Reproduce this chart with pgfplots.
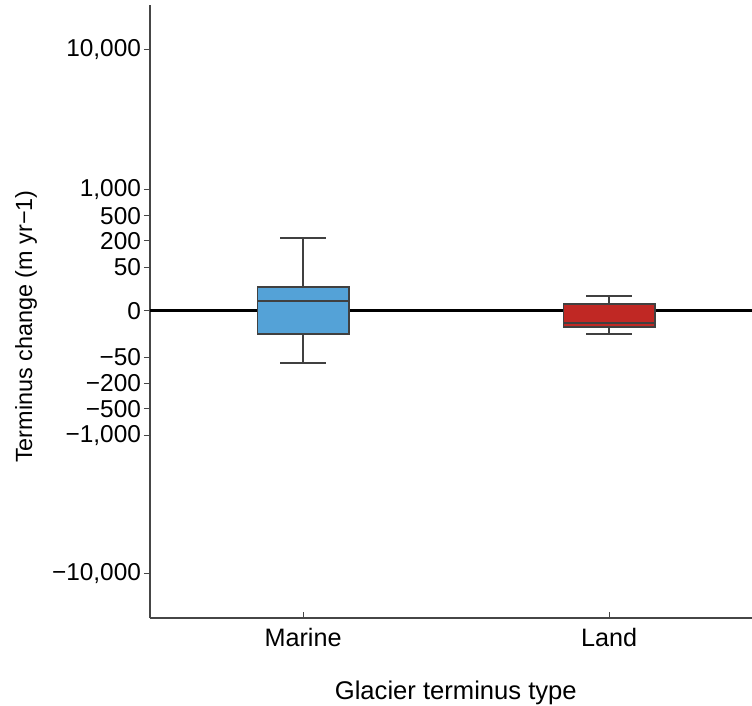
\documentclass[border=0pt]{standalone}
\usepackage{pgfplots}
\pgfplotsset{compat=1.18}
\usepackage{fontspec}
\setmainfont{Liberation Sans}
\definecolor{marineblue}{RGB}{84,162,215}
\definecolor{landred}{RGB}{192,40,36}
\definecolor{spine}{RGB}{70,70,70}
\begin{document}
\begin{tikzpicture}
\begin{axis}[
  name=ax,
  scale only axis,
  width=301pt, height=306.5pt,
  xmin=0.5, xmax=2.467,
  ymin=-307, ymax=306,
  axis x line=bottom, axis y line=left,
  axis line style={spine, line width=0.75pt, -},
  font=\fontsize{12.2}{14.6}\selectfont,
  /pgf/number format/assume math mode=true,
  xtick={1,2}, xticklabels={Marine,Land},
  ytick={-262.7,-124.7,-97.7,-72.3,-46.3,0,43.7,70.3,95.3,121.7,261},
  yticklabels={{−10,000},{−1,000},{−500},{−200},{−50},{0},{50},{200},{500},{1,000},{10,000}},
  ytick style={spine, line width=0.5pt},
  xtick style={spine, line width=0.5pt},
  ytick align=outside, xtick align=inside,
  major tick length=3pt,
  yticklabel style={xshift=2pt},
  xticklabel style={yshift=-1.5pt, font=\fontsize{12.6}{15}\selectfont},
  ylabel={Terminus change (m yr−1)},
  xlabel={Glacier terminus type},
  ylabel style={at={(axis description cs:-0.206,0.4755)}, anchor=center, font=\fontsize{11.7}{14}\selectfont},
  xlabel style={at={(axis description cs:0.508,-0.1225)}, anchor=center, font=\fontsize{12.8}{15}\selectfont},
  clip=false,
]
\addplot[black, line width=1.5pt] coordinates {(0.5,0) (2.467,0)};
% Marine: box
\addplot[fill=marineblue, draw=black!75, line width=0.6pt] coordinates {(0.85,-23) (1.15,-23) (1.15,24) (0.85,24)} -- cycle;
\addplot[black!75, line width=0.6pt] coordinates {(0.85,10) (1.15,10)};
\addplot[black!75, line width=0.6pt] coordinates {(1,24) (1,73)};
\addplot[black!75, line width=0.6pt] coordinates {(1,-23) (1,-52)};
\addplot[black!75, line width=0.6pt] coordinates {(0.925,73) (1.075,73)};
\addplot[black!75, line width=0.6pt] coordinates {(0.925,-52) (1.075,-52)};
% Land
\addplot[fill=landred, draw=black!75, line width=0.6pt] coordinates {(1.85,-16) (2.15,-16) (2.15,7) (1.85,7)} -- cycle;
\addplot[black!75, line width=0.6pt] coordinates {(1.85,-12) (2.15,-12)};
\addplot[black!75, line width=0.6pt] coordinates {(2,7) (2,15)};
\addplot[black!75, line width=0.6pt] coordinates {(2,-16) (2,-23)};
\addplot[black!75, line width=0.6pt] coordinates {(1.925,15) (2.075,15)};
\addplot[black!75, line width=0.6pt] coordinates {(1.925,-23) (2.075,-23)};
\end{axis}
\pgfresetboundingbox
\path[use as bounding box] ([xshift=-75pt,yshift=-43.5pt]ax.south west) rectangle ([yshift=2.5pt]ax.north east);
\end{tikzpicture}
\end{document}
